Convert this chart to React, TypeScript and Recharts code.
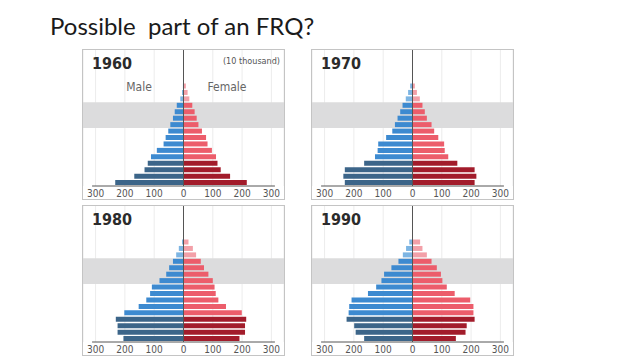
import { BarChart, Bar, XAxis, YAxis, CartesianGrid, ReferenceArea, ReferenceLine, Cell } from 'recharts';

// age groups, bottom (youngest) to top (oldest)
const ages = ['0-4', '5-9', '10-14', '15-19', '20-24', '25-29', '30-34', '35-39', '40-44', '45-49', '50-54', '55-59', '60-64', '65-69', '70-74', '75+'];

// population in 10 thousand
const male1960 = [233, 168, 133, 122, 111, 91, 68, 61, 52, 45, 36, 30, 23, 11, 5, 2];
const female1960 = [216, 159, 127, 116, 111, 97, 82, 77, 63, 51, 45, 38, 30, 20, 14, 8];
const male1970 = [231, 236, 231, 165, 128, 119, 117, 90, 69, 60, 51, 42, 34, 23, 15, 8];
const female1970 = [212, 218, 212, 153, 122, 110, 108, 88, 74, 65, 49, 42, 34, 25, 15, 8];
const male1980 = [205, 225, 225, 231, 202, 153, 127, 114, 108, 82, 59, 49, 36, 25, 16, 5];
const female1980 = [191, 210, 210, 214, 199, 145, 119, 110, 106, 100, 85, 70, 59, 43, 32, 17];
const male1990 = [165, 194, 199, 225, 218, 216, 208, 152, 124, 106, 97, 72, 48, 33, 22, 11];
const female1990 = [148, 181, 185, 212, 208, 208, 197, 144, 117, 102, 97, 83, 65, 49, 34, 26];

const xTicks = [-300, -200, -100, 0, 100, 200, 300];

// grey highlight band: top and bottom age group it covers
const bandTop = '60-64';
const bandBottom = '45-49';

const narrow = "'Liberation Sans Narrow', 'DejaVu Sans Condensed', sans-serif";

const maleColors = ['#3c6589', '#3d8ad0', '#7db5e3'];
const femaleColors = ['#a21c2b', '#ec5d6b', '#f3a0a8'];

// 0: under 20, 1: 20-64, 2: 65 and over
function ageGroup(i: number) {
  if (i < 4) return 0;
  if (i < 13) return 1;
  return 2;
}

const W = 201;
const H = 149;

function Pyramid({ year, male, female, left, top, unit }: { year: string; male: number[]; female: number[]; left: number; top: number; unit?: boolean }) {
  const rows = ages.map((age, i) => ({ age, male: -male[i], female: female[i] }));
  return (
    <div style={{ position: 'absolute', left, top, width: W, height: H, border: '1px solid #c4c4c4', background: '#fff' }}>
      <BarChart width={W} height={H} data={rows} layout="vertical" stackOffset="sign" barCategoryGap={0.5} margin={{ top: 0, right: 0, bottom: 0, left: 0 }}>
        <CartesianGrid horizontal={false} stroke="#ececec" />
        <XAxis
          type="number"
          domain={[-343, 343]}
          ticks={xTicks}
          interval={0}
          allowDataOverflow
          tickFormatter={(v: number) => String(Math.abs(v))}
          axisLine={false}
          tickLine={false}
          tickSize={2}
          tickMargin={2}
          height={13}
          tick={{ fontSize: 10, fill: '#555', fontFamily: narrow }}
        />
        <YAxis type="category" dataKey="age" reversed hide padding={{ top: 33, bottom: 0 }} />
        <YAxis yAxisId="full" type="number" hide />
        <ReferenceArea y1={bandTop} y2={bandBottom} fill="#dcdcdd" fillOpacity={1} stroke="none" ifOverflow="visible" />
        <Bar dataKey="male" stackId="p" isAnimationActive={false}>
          {rows.map((r, i) => (
            <Cell key={r.age} fill={maleColors[ageGroup(i)]} />
          ))}
        </Bar>
        <Bar dataKey="female" stackId="p" isAnimationActive={false}>
          {rows.map((r, i) => (
            <Cell key={r.age} fill={femaleColors[ageGroup(i)]} />
          ))}
        </Bar>
        <ReferenceLine yAxisId="full" x={0} stroke="#555" strokeWidth={1} ifOverflow="visible" />
        <ReferenceLine
          segment={[{ x: -312, y: ages[0] }, { x: 312, y: ages[0] }]}
          position="end"
          stroke="#555"
          strokeWidth={1}
          ifOverflow="visible"
        />
      </BarChart>
      <div style={{ position: 'absolute', left: 9, top: 6, fontFamily: narrow, fontWeight: 700, fontSize: 16, lineHeight: '16px', color: '#2b2b2b' }}>{year}</div>
      {unit && (
        <>
          <div style={{ position: 'absolute', right: 4, top: 7, fontFamily: narrow, fontSize: 9, lineHeight: '9px', color: '#555' }}>(10 thousand)</div>
          <div style={{ position: 'absolute', left: 56, top: 31, transform: 'translateX(-50%)', fontFamily: narrow, fontSize: 12, lineHeight: '12px', color: '#666' }}>Male</div>
          <div style={{ position: 'absolute', left: 144, top: 31, transform: 'translateX(-50%)', fontFamily: narrow, fontSize: 12, lineHeight: '12px', color: '#666' }}>Female</div>
        </>
      )}
    </div>
  );
}

export default function App() {
  return (
    <div style={{ position: 'absolute', left: 0, top: 0, width: 638, height: 359, background: '#fff', overflow: 'hidden' }}>
      <div style={{ position: 'absolute', left: 50, top: 14, fontFamily: 'Lato, sans-serif', fontSize: 24, lineHeight: '24px', color: '#1a1a1a', whiteSpace: 'pre' }}>
        Possible  part of an FRQ?
      </div>
      <Pyramid year="1960" male={male1960} female={female1960} left={82} top={49} unit />
      <Pyramid year="1970" male={male1970} female={female1970} left={311} top={49} />
      <Pyramid year="1980" male={male1980} female={female1980} left={82} top={205} />
      <Pyramid year="1990" male={male1990} female={female1990} left={311} top={205} />
    </div>
  );
}
